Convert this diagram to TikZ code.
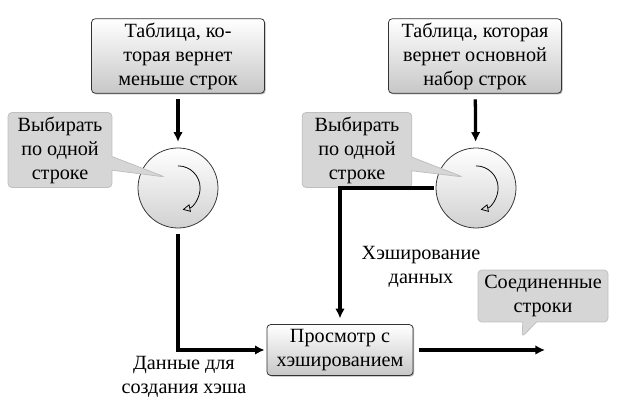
\documentclass[tikz,border=0pt]{standalone}
\usepackage{fontspec}
\setmainfont{Liberation Serif}
\usetikzlibrary{arrows.meta,shapes.callouts,shadows}
\begin{document}
\begin{tikzpicture}[x=0.52pt,y=-0.52pt,every node/.style={font=\fontsize{10.5}{12.5}\selectfont}]
\tikzstyle{tablebox}=[draw=black!80,rounded corners=2pt,top color=white,bottom color=black!22,
drop shadow={opacity=1,fill=black!30,shadow xshift=0.6pt,shadow yshift=-0.6pt},align=center,inner sep=2pt]
\tikzstyle{loopnode}=[draw=black!80,circle,top color=white,bottom color=black!18,minimum size=41.6pt,inner sep=0pt]
\tikzstyle{note}=[rectangle callout,draw=black!25,fill=black!16,rounded corners=2pt,align=center,inner sep=2pt]
\tikzstyle{flow}=[line width=1.7pt,-{Latex[length=5pt,width=5pt]}]
\tikzstyle{plain}=[align=center,inner sep=1pt]
\useasboundingbox (0,0) rectangle (620,405);

\draw (178,56) node (tabA) [tablebox,minimum width=90pt,minimum height=38.5pt] {Таблица, ко-\\торая вернет\\меньше строк};
\draw (475,56) node (tabB) [tablebox,minimum width=90pt,minimum height=38.5pt] {Таблица, которая\\вернет основной\\набор строк};
\draw (178,188) node (loopA) [loopnode] {};
\draw (476,188) node (loopB) [loopnode] {};
\draw (340,350) node (probe) [tablebox,minimum width=76pt,minimum height=26.5pt] {Просмотр с\\хэшированием};

\draw [-{Triangle[open,length=4pt,width=4pt]}] (loopA.center) ++(90:11.5pt) arc [start angle=90,end angle=-78,radius=11.5pt];
\draw [-{Triangle[open,length=4pt,width=4pt]}] (loopB.center) ++(90:11.5pt) arc [start angle=90,end angle=-78,radius=11.5pt];

\draw (60,150) node (callA) [note,minimum width=54pt,minimum height=39pt,callout absolute pointer={(165,177)}] {Выбирать\\по одной\\строке};
\draw (357,150) node (callB) [note,minimum width=57pt,minimum height=39pt,callout absolute pointer={(463,177)}] {Выбирать\\по одной\\строке};
\draw (543,296) node (callC) [note,minimum width=67.6pt,minimum height=27pt,callout absolute pointer={(522,337)}] {Соединенные\\строки};

\draw (184,377) node (dataA) [plain] {Данные для\\создания хэша};
\draw (421,267) node (hashB) [plain] {Хэширование\\данных};
\coordinate (outC) at (545,350);

\draw [flow,shorten <=3pt,shorten >=3pt] (tabA) -- (loopA);
\draw [flow,shorten <=3pt,shorten >=3pt] (tabB) -- (loopB);
\draw [flow,shorten <=3pt,shorten >=1pt] (loopA) |- (probe);
\draw [flow,shorten <=1pt,shorten >=3pt] (loopB.west) -| (probe.north);
\draw [flow,shorten <=3pt] (probe) -- (outC);
\end{tikzpicture}
\end{document}
